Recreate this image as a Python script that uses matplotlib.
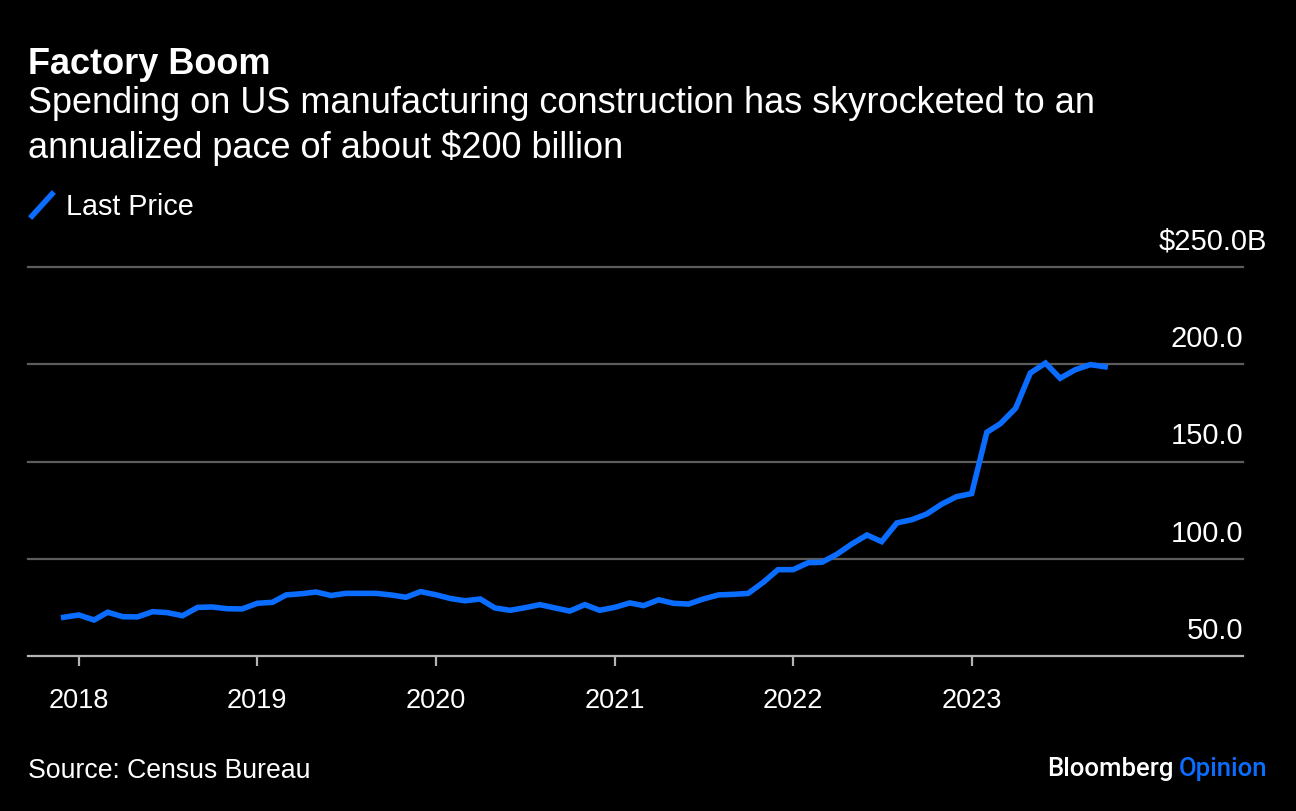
import datetime as dt
import matplotlib
matplotlib.use("Agg")
import matplotlib.pyplot as plt
import matplotlib.transforms as mtransforms

# Monthly spending on US manufacturing construction, $B (annualized)
start_year, start_month = 2017, 12
values = [
    69.9,
    71.1, 68.5, 72.5, 70.2, 70.1, 72.8, 72.3, 70.7, 75.0, 75.2, 74.3, 74.2,
    77.1, 77.6, 81.4, 82.0, 82.9, 81.1, 82.2, 82.2, 82.2, 81.4, 80.2, 83.1,
    81.5, 79.5, 78.4, 79.3, 74.7, 73.5, 74.8, 76.4, 74.7, 73.1, 76.4, 73.5,
    75.0, 77.3, 75.9, 78.9, 77.1, 76.7, 79.3, 81.4, 81.7, 82.2, 87.9, 94.4,
    94.4, 98.0, 98.2, 102.4, 107.6, 112.2, 108.8, 118.4, 120.1, 123.0, 128.1, 131.9,
    133.5, 165.0, 169.5, 177.4, 195.5, 200.6, 192.8, 197.2, 199.8, 198.7,
]
dates = []
for i in range(len(values)):
    m = start_month - 1 + i
    dates.append(dt.date(start_year + m // 12, m % 12 + 1, 1))

yticks = [50, 100, 150, 200, 250]
ytick_labels = ["50.0", "100.0", "150.0", "200.0", "$250.0B"]
xtick_years = [2018, 2019, 2020, 2021, 2022, 2023]

title = "Factory Boom"
subtitle = ["Spending on US manufacturing construction has skyrocketed to an",
            "annualized pace of about $200 billion"]
legend_label = "Last Price"
source = "Source: Census Bureau"

BLUE = "#0a6dff"
W, H = 1296, 812
plt.rcParams['font.family'] = ['Liberation Sans', 'DejaVu Sans']

fig = plt.figure(figsize=(W / 100, H / 100), dpi=100, facecolor="black")


def px(x, y):
    return x / W, 1 - y / H


# axes placed in pixel coords
left, right, top, bottom = 28, 1243, 268, 657
ax = fig.add_axes([left / W, 1 - bottom / H, (right - left) / W, (bottom - top) / H])
ax.set_facecolor("black")
ax.set_ylim(50, 250)
ax.set_xlim(dt.date(2017, 9, 19), dt.date(2024, 7, 9))

for s in ax.spines.values():
    s.set_visible(False)

# gridlines
for v in yticks[1:]:
    ax.axhline(v, color="#5c5c5c", lw=1.6, clip_on=False, zorder=1)
ax.axhline(50, color="#b4b4b4", lw=1.6, clip_on=False, zorder=1)

ax.plot(dates, values, color=BLUE, lw=4, solid_joinstyle="miter", zorder=3)

# y labels above gridlines, right aligned
ytrans = mtransforms.offset_copy(ax.get_yaxis_transform(), fig=fig, x=0, y=18, units="dots")
for v, lab in zip(yticks, ytick_labels):
    xx = 1.0 if v != 250 else 1.0 + 24 / (right - left)
    ax.text(xx, v, lab, transform=ytrans, ha="right", va="baseline",
            color="white", fontsize=21)
ax.set_yticks([])

# x ticks
ax.set_xticks([dt.date(y, 1, 1) for y in xtick_years])
ax.set_xticklabels([str(y) for y in xtick_years])
ax.tick_params(axis="x", colors="#b4b4b4", length=7.5, width=1.6, pad=15,
               labelcolor="white", labelsize=19.5)

# header
fig.text(*px(28, 74), title, color="white", fontsize=26, fontweight="bold", va="baseline")
fig.text(*px(28, 113), subtitle[0], color="white", fontsize=26, va="baseline")
fig.text(*px(28, 158), subtitle[1], color="white", fontsize=26, va="baseline")

# legend
fig.add_artist(plt.Line2D([32 / W, 52 / W], [1 - 217 / H, 1 - 195 / H], color=BLUE,
                          lw=4, transform=fig.transFigure))
fig.text(*px(66, 215), legend_label, color="white", fontsize=20.7, va="baseline")

# footer
fig.text(*px(28, 778), source, color="white", fontsize=19.2, va="baseline")
t2 = fig.text(*px(1267, 776), "Opinion", color=BLUE, fontsize=18.5, va="baseline",
              ha="right", family="Roboto", fontweight="medium")
fig.canvas.draw()
bb = t2.get_window_extent()
fig.text((bb.x0 - 5) / W, 1 - 776 / H, "Bloomberg", color="white", fontsize=18.5,
         va="baseline", ha="right", family="Roboto", fontweight="medium")

fig.savefig("out.png", dpi=100, facecolor="black")
